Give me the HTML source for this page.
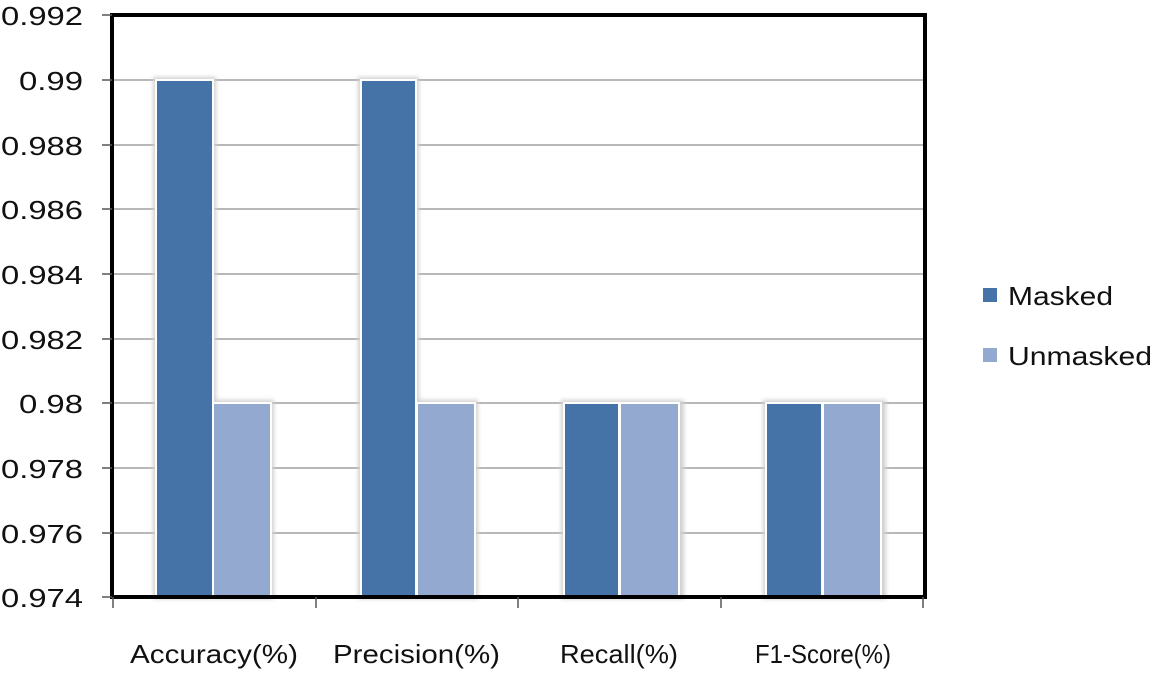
<!DOCTYPE html>
<html><head><style>
body{margin:0;background:#fff;width:1155px;height:672px;overflow:hidden;font-family:"Liberation Sans",sans-serif;}
</style></head><body>
<svg width="1155" height="672" xmlns="http://www.w3.org/2000/svg" font-family="Liberation Sans, sans-serif">
<defs><filter id="sh" x="-20%" y="-5%" width="140%" height="110%"><feGaussianBlur stdDeviation="2"/></filter></defs>
<g stroke="#a0a0a0" stroke-width="1.5">
<line x1="112" x2="925" y1="80" y2="80"/><line x1="112" x2="925" y1="145" y2="145"/>
<line x1="112" x2="925" y1="209" y2="209"/><line x1="112" x2="925" y1="274" y2="274"/>
<line x1="112" x2="925" y1="339" y2="339"/><line x1="112" x2="925" y1="403" y2="403"/>
<line x1="112" x2="925" y1="468" y2="468"/><line x1="112" x2="925" y1="533" y2="533"/>
</g>
<g fill="#d0d0d0" filter="url(#sh)">
<rect x="153" y="77" width="63" height="522"/><rect x="210" y="400" width="64" height="199"/>
<rect x="358" y="77" width="61" height="522"/><rect x="414" y="400" width="64" height="199"/>
<rect x="561" y="400" width="123" height="199"/><rect x="763" y="400" width="123" height="199"/>
</g>
<g stroke="#fff" stroke-width="2">
<rect x="156" y="80" width="57" height="518" fill="#4572A7"/><rect x="213" y="403" width="58" height="195" fill="#93A9CF"/>
<rect x="361" y="80" width="55" height="518" fill="#4572A7"/><rect x="417" y="403" width="58" height="195" fill="#93A9CF"/>
<rect x="564" y="403" width="55" height="195" fill="#4572A7"/><rect x="620" y="403" width="59" height="195" fill="#93A9CF"/>
<rect x="766" y="403" width="56" height="195" fill="#4572A7"/><rect x="823" y="403" width="58" height="195" fill="#93A9CF"/>
</g>
<rect x="112" y="15" width="813" height="582" fill="none" stroke="#000" stroke-width="4"/>
<g stroke="#555" stroke-width="1.5">
<line x1="102" x2="112" y1="15" y2="15"/><line x1="102" x2="112" y1="80" y2="80"/><line x1="102" x2="112" y1="145" y2="145"/>
<line x1="102" x2="112" y1="209" y2="209"/><line x1="102" x2="112" y1="274" y2="274"/><line x1="102" x2="112" y1="339" y2="339"/>
<line x1="102" x2="112" y1="403" y2="403"/><line x1="102" x2="112" y1="468" y2="468"/><line x1="102" x2="112" y1="533" y2="533"/>
<line x1="102" x2="112" y1="597" y2="597"/>
<line x1="113" x2="113" y1="597" y2="608"/><line x1="316" x2="316" y1="597" y2="608"/><line x1="518" x2="518" y1="597" y2="608"/>
<line x1="721" x2="721" y1="597" y2="608"/><line x1="923" x2="923" y1="597" y2="608"/>
</g>
<g font-size="26" fill="#111">
<text x="1" y="25" textLength="82" lengthAdjust="spacingAndGlyphs">0.992</text>
<text x="19" y="90" textLength="64" lengthAdjust="spacingAndGlyphs">0.99</text>
<text x="1" y="155" textLength="82" lengthAdjust="spacingAndGlyphs">0.988</text>
<text x="1" y="219" textLength="82" lengthAdjust="spacingAndGlyphs">0.986</text>
<text x="1" y="284" textLength="82" lengthAdjust="spacingAndGlyphs">0.984</text>
<text x="1" y="349" textLength="82" lengthAdjust="spacingAndGlyphs">0.982</text>
<text x="19" y="413" textLength="64" lengthAdjust="spacingAndGlyphs">0.98</text>
<text x="1" y="478" textLength="82" lengthAdjust="spacingAndGlyphs">0.978</text>
<text x="1" y="543" textLength="82" lengthAdjust="spacingAndGlyphs">0.976</text>
<text x="1" y="607" textLength="82" lengthAdjust="spacingAndGlyphs">0.974</text>
</g>
<g font-size="26" fill="#111">
<text x="130" y="663" textLength="168" lengthAdjust="spacingAndGlyphs">Accuracy(%)</text>
<text x="333" y="663" textLength="167" lengthAdjust="spacingAndGlyphs">Precision(%)</text>
<text x="560" y="663" textLength="118" lengthAdjust="spacingAndGlyphs">Recall(%)</text>
<text x="755" y="663" textLength="136" lengthAdjust="spacingAndGlyphs">F1-Score(%)</text>
</g>
<rect x="983" y="288" width="14" height="14" fill="#4572A7"/>
<rect x="983" y="348" width="14" height="14" fill="#93A9CF"/>
<g font-size="26" fill="#111">
<text x="1008" y="305" textLength="105" lengthAdjust="spacingAndGlyphs">Masked</text>
<text x="1008" y="365" textLength="144" lengthAdjust="spacingAndGlyphs">Unmasked</text>
</g>
</svg>
</body></html>
